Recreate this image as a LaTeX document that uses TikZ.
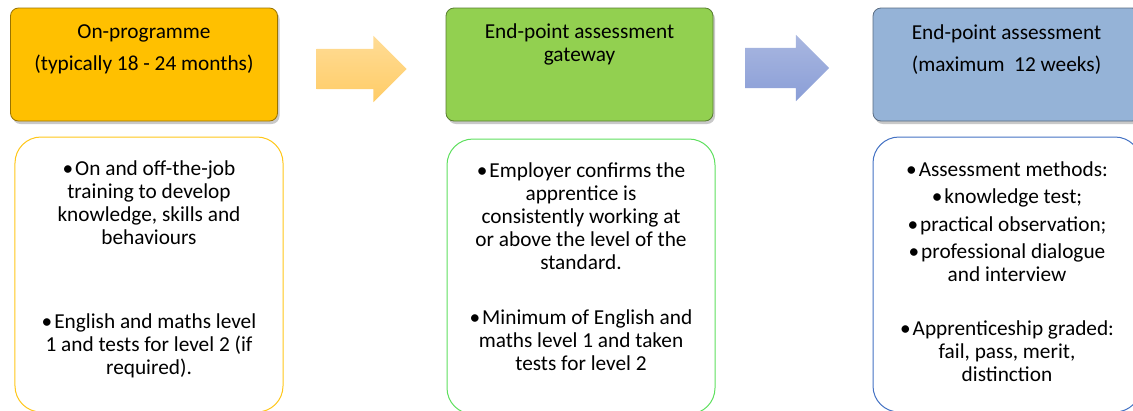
\documentclass[tikz,border=0pt]{standalone}
\usepackage{fontspec}
\setmainfont{Carlito}
\usetikzlibrary{positioning,shapes.arrows,shadows}

\definecolor{progfill}{HTML}{FFC000}
\definecolor{gatefill}{HTML}{92D050}
\definecolor{epafill}{HTML}{95B3D7}
\definecolor{progline}{HTML}{FFC71A}
\definecolor{gateline}{HTML}{5EE05E}
\definecolor{epaline}{HTML}{4472C4}
\definecolor{arrowAtop}{HTML}{FFDC96}
\definecolor{arrowAbot}{HTML}{FFCC66}
\definecolor{arrowBtop}{HTML}{A9B7E0}
\definecolor{arrowBbot}{HTML}{8A9ED7}

\tikzset{
  headbox/.style={rectangle, rounded corners=8bp, minimum width=267bp,
    minimum height=113bp, fill=#1, draw=#1!60!black, line width=0.8bp,
    drop shadow={shadow xshift=2bp, shadow yshift=-3bp, opacity=0.3, fill=black!70}},
  listbox/.style={rectangle, rounded corners=26bp, minimum width=268bp,
    minimum height=275bp, draw=#1, line width=1bp, fill=white},
  boxtext/.style={align=center, inner sep=0pt,
    font=\fontsize{21.3bp}{23bp}\selectfont},
  blockarrow/.style={single arrow, draw=none, inner xsep=0pt, inner ysep=20bp,
    minimum width=66bp, single arrow head extend=13bp}
}
\newcommand{\itemdot}{•\kern2bp}

\begin{document}
\begin{tikzpicture}[x=1bp, y=-1bp]
  \useasboundingbox (0,0) rectangle (1133,410);

  % stage headings
  \node[headbox=progfill] (prog) at (144,64.5) {};
  \node[headbox=gatefill] (gate) at (579.5,64.5) {};
  \node[headbox=epafill] (epa) at (1006.5,64.5) {};

  \node[boxtext, below=17bp of prog.north] (progtitle)
    {On-programme\\[9bp](typically 18 - 24 months)};
  \node[boxtext, below=16bp of gate.north] (gatetitle)
    {End-point assessment\\gateway};
  \node[boxtext, below=17bp of epa.north] (epatitle)
    {End-point assessment\\[9bp](maximum\ \ 12 weeks)};

  % block arrows
  \node[blockarrow, minimum height=90bp, top color=arrowAtop,
    bottom color=arrowAbot] (arrA) at (351.5,69) {};
  \node[blockarrow, minimum height=84bp, top color=arrowBtop,
    bottom color=arrowBbot] (arrB) at (777,68) {};

  % stage details
  \node[listbox=progline] (proglist) at (149,274.5) {};
  \node[listbox=gateline] (gatelist) at (581,276.5) {};
  \node[listbox=epaline] (epalist) at (1007,274.5) {};

  \node[boxtext, below=24bp of proglist.north] (progitems)
    {\itemdot On and off-the-job\\training to develop\\knowledge, skills and\\behaviours\\[61bp]%
     \itemdot English and maths level\\1 and tests for level 2 (if\\required).};
  \node[boxtext, below=24bp of gatelist.north] (gateitems)
    {\itemdot Employer confirms the\\apprentice is\\consistently working at\\or above the level of the\\standard.\\[32bp]%
     \itemdot Minimum of English and\\maths level 1 and taken\\tests for level 2};
  \node[boxtext, below=25bp of epalist.north] (epaitems)
    {\itemdot Assessment methods:\\[4.5bp]\itemdot knowledge test;\\[4.5bp]\itemdot practical observation;\\[4.5bp]%
     \itemdot professional dialogue\\and interview\\[31bp]%
     \itemdot Apprenticeship graded:\\fail, pass, merit,\\distinction};
\end{tikzpicture}
\end{document}
